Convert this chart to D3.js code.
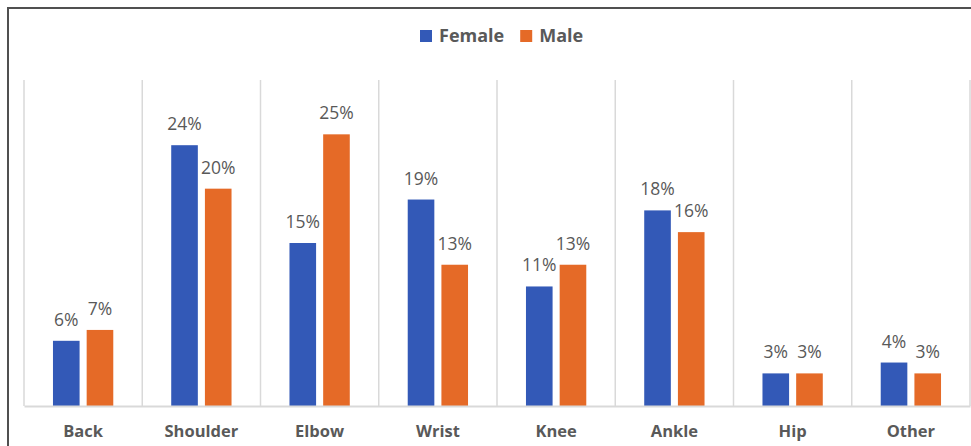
<!DOCTYPE html>
<html>
<head>
<meta charset="utf-8">
<script src="https://cdnjs.cloudflare.com/ajax/libs/d3/7.8.5/d3.min.js"></script>
<style>
  body { margin: 0; background: #fff; }
  svg { display: block; font-family: "Open Sans", sans-serif; }
</style>
</head>
<body>
<div id="chart"></div>
<script>
// data
var categories = ["Back", "Shoulder", "Elbow", "Wrist", "Knee", "Ankle", "Hip", "Other"];
var seriesNames = ["Female", "Male"];
var female = [6, 24, 15, 19, 11, 18, 3, 4];
var male = [7, 20, 25, 13, 13, 16, 3, 3];
var colors = ["#3359b7", "#e56a27"];

var width = 971, height = 446;

var svg = d3.select("#chart").append("svg")
    .attr("width", width)
    .attr("height", height);

// outer frame (only top and left edges show)
svg.append("path")
    .attr("d", "M8,446 L8,8 L971,8")
    .attr("fill", "none")
    .attr("stroke", "#505050")
    .attr("stroke-width", 2);

// scales
var x0 = d3.scaleBand()
    .domain(categories)
    .range([24, 970])
    .paddingInner(0)
    .paddingOuter(0);

var x1 = d3.scaleBand()
    .domain(seriesNames)
    .range([0, x0.bandwidth()])
    .paddingInner(0.21)
    .paddingOuter(0.86);

var y = d3.scaleLinear()
    .domain([0, 30])
    .range([406, 80]);

var color = d3.scaleOrdinal().domain(seriesNames).range(colors);

// category separators
var seps = categories.map(function(c){ return x0(c); }).concat([x0.range()[1]]);
svg.append("g").selectAll("line")
    .data(seps)
    .enter().append("line")
    .attr("x1", function(d){ return d; })
    .attr("x2", function(d){ return d; })
    .attr("y1", y(30))
    .attr("y2", y(0))
    .attr("stroke", "#d9d9d9")
    .attr("stroke-width", 1.5);

// bars
var rows = categories.map(function(c, i){
    return { cat: c, values: [
        { name: "Female", value: female[i] },
        { name: "Male", value: male[i] }
    ]};
});

var groups = svg.append("g").selectAll("g")
    .data(rows)
    .enter().append("g")
    .attr("transform", function(d){ return "translate(" + x0(d.cat) + ",0)"; });

groups.selectAll("rect")
    .data(function(d){ return d.values; })
    .enter().append("rect")
    .attr("x", function(d){ return x1(d.name); })
    .attr("y", function(d){ return y(d.value); })
    .attr("width", x1.bandwidth())
    .attr("height", function(d){ return y(0) - y(d.value); })
    .attr("fill", function(d){ return color(d.name); });

groups.selectAll("text")
    .data(function(d){ return d.values; })
    .enter().append("text")
    .attr("x", function(d){ return x1(d.name) + x1.bandwidth() / 2; })
    .attr("y", function(d){ return y(d.value) - 15; })
    .attr("text-anchor", "middle")
    .attr("fill", "#595959")
    .style("font-size", "17.5px")
    .text(function(d){ return d.value + "%"; });

// x axis
var xAxis = d3.axisBottom(x0).tickSize(0).tickPadding(19);
var gx = svg.append("g")
    .attr("transform", "translate(0," + y(0) + ")")
    .call(xAxis);
gx.select(".domain")
    .attr("stroke", "#d9d9d9")
    .attr("stroke-width", 2);
gx.selectAll("text")
    .attr("fill", "#595959")
    .style("font-family", "'Open Sans', sans-serif")
    .style("font-size", "16.5px")
    .style("font-weight", "bold");

// legend
var legend = svg.append("g");
var lx = 420;
seriesNames.forEach(function(name){
    legend.append("rect")
        .attr("x", lx)
        .attr("y", 30)
        .attr("width", 12)
        .attr("height", 12)
        .attr("fill", color(name));
    var t = legend.append("text")
        .attr("x", lx + 19)
        .attr("y", 42)
        .attr("fill", "#595959")
        .style("font-size", "18px")
        .style("font-weight", "bold")
        .text(name);
    lx += 19 + t.node().getComputedTextLength() + 16;
});
</script>
</body>
</html>
